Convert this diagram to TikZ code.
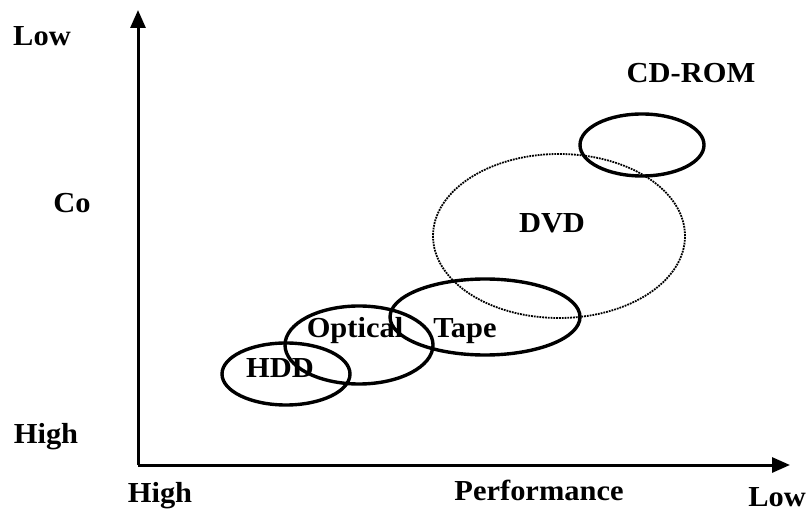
\documentclass[tikz,border=0pt]{standalone}
\usepackage{fontspec}
\setmainfont{Liberation Serif}[FakeStretch=1.05]
\usepackage{tikz}
\usetikzlibrary{arrows.meta}

\begin{document}
\begin{tikzpicture}[x=1pt, y=1pt,
    lbl/.style={anchor=base, inner sep=0pt, font=\fontsize{29}{32}\selectfont\bfseries},
    blob/.style={draw, line width=3.4pt},
    axis/.style={line width=3pt, -{Triangle[length=18pt, width=15pt]}}]
  \useasboundingbox (0,0) rectangle (810,511);
  % axes
  \coordinate (o) at (138,46);
  \coordinate (ytop) at (138,501);
  \coordinate (xend) at (790,46);
  \draw[axis] (o) -- (ytop);
  \draw[axis] (o) -- (xend);
  % storage regions
  \draw[densely dotted, line width=1.8pt] (559,275) ellipse [x radius=126, y radius=82];
  \draw[blob] (642,366) ellipse [x radius=62, y radius=31];
  \draw[blob] (485,194) ellipse [x radius=95, y radius=38];
  \draw[blob] (359,166) ellipse [x radius=74, y radius=39];
  \draw[blob] (286,137) ellipse [x radius=64, y radius=31];
  % texts
  \node[lbl] (cdrom) at (691,428) {CD-ROM};
  \node[lbl] (dvd) at (552,278) {DVD};
  \node[lbl] (tape) at (465,173) {Tape};
  \node[lbl] (optical) at (355,173) {Optical};
  \node[lbl] (hdd) at (280,133) {HDD};
  % axis labels
  \node[lbl] (ylow) at (42,465) {Low};
  \node[lbl] (cost) at (72,298) {Co};
  \node[lbl] (yhigh) at (46,68) {High};
  \node[lbl] (xhigh) at (160,9) {High};
  \node[lbl] (perf) at (539,11) {Performance};
  \node[lbl] (xlow) at (777,5) {Low};
\end{tikzpicture}
\end{document}
